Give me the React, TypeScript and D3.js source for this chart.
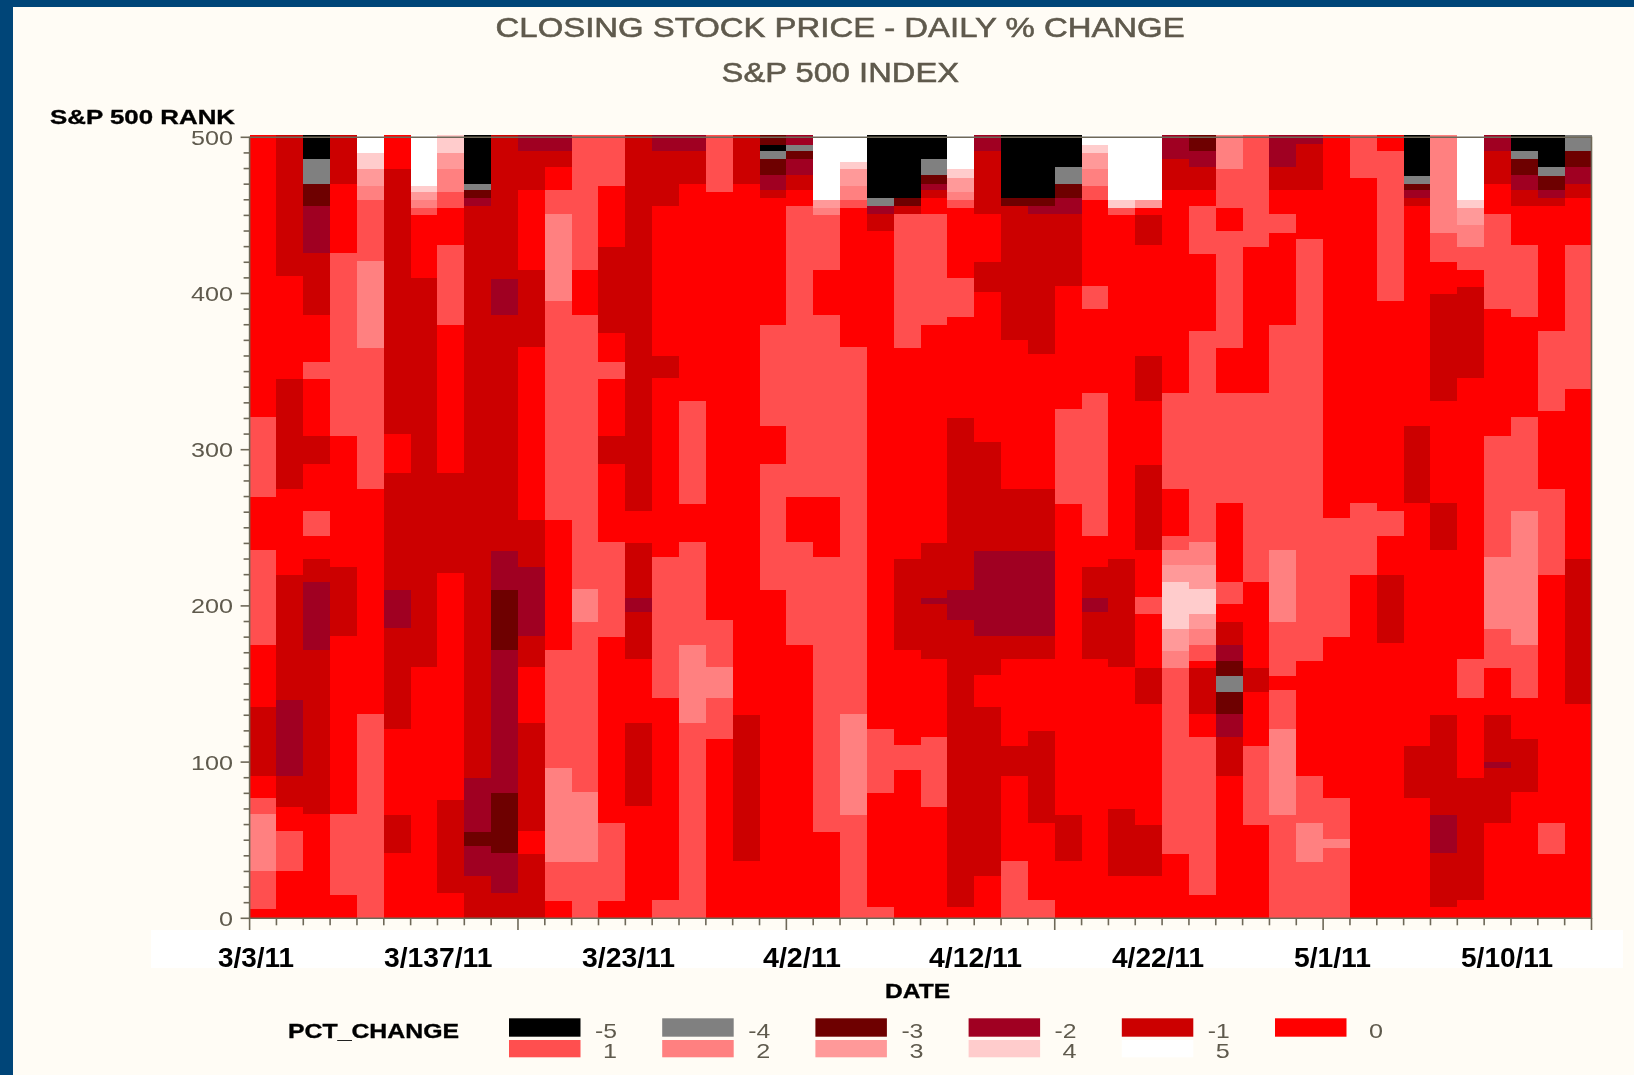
import React from "react";
import * as d3 from "d3";

// Each run: [rank at the top of the run, PCT_CHANGE class]; a run ends where the next begins.
const dayRuns: number[][][] = [
  [[500,0],[321,1],[270,0],[236,1],[175,0],[135,-1],[91,0],[77,1],[67,2],[30,1],[6,0]],
  [[500,-1],[411,0],[345,-1],[275,0],[220,-1],[140,-2],[91,-1],[71,0],[56,1],[30,0]],
  [[500,-5],[486,-4],[470,-3],[456,-2],[426,-1],[386,0],[356,1],[345,0],[309,-1],[291,0],[261,1],[245,0],[230,-1],[215,-2],[172,-1],[67,0]],
  [[500,-1],[470,0],[426,1],[309,0],[225,-1],[181,0],[67,1],[15,0]],
  [[500,5],[490,4],[480,3],[469,2],[460,1],[421,2],[365,1],[275,0],[131,1]],
  [[500,0],[480,-1],[310,0],[285,-1],[210,-2],[186,-1],[121,0],[66,-1],[42,0]],
  [[500,5],[469,4],[465,3],[460,2],[455,1],[450,0],[410,-1],[161,0]],
  [[500,4],[490,3],[480,2],[465,1],[455,0],[431,1],[380,0],[285,-1],[221,0],[76,-1],[16,0]],
  [[500,-5],[470,-4],[466,-3],[461,-2],[456,-1],[90,-2],[55,-3],[46,-2],[27,-1]],
  [[500,-1],[409,-2],[386,-1],[235,-2],[210,-3],[172,-2],[80,-3],[42,-2],[16,-1]],
  [[500,-2],[491,-1],[466,0],[415,-1],[366,0],[255,-1],[225,-2],[181,-1],[161,0],[125,-1],[56,0],[41,-1]],
  [[500,-2],[491,-1],[481,0],[466,1],[451,2],[395,1],[255,0],[172,1],[96,2],[36,1],[11,0]],
  [[500,1],[415,0],[386,1],[211,2],[190,1],[81,2],[36,1]],
  [[500,1],[469,0],[430,-1],[375,0],[356,1],[345,0],[309,-1],[291,0],[241,1],[180,0],[61,1],[11,0]],
  [[500,-1],[261,0],[240,-1],[205,-2],[196,-1],[166,0],[125,-1],[72,0]],
  [[500,-2],[491,-1],[456,0],[360,-1],[346,0],[231,1],[141,0],[12,1]],
  [[500,-2],[491,-1],[470,0],[331,1],[265,0],[241,1],[175,2],[125,1]],
  [[500,1],[465,0],[191,1],[161,2],[141,1],[115,0]],
  [[500,-1],[470,0],[130,-1],[37,0]],
  [[500,-3],[495,-5],[491,-4],[486,-3],[476,-2],[466,-1],[461,0],[380,1],[315,0],[291,1],[210,0]],
  [[500,-2],[495,-4],[491,-3],[486,-2],[476,-1],[466,0],[456,1],[270,0],[241,1],[175,0]],
  [[500,5],[460,3],[455,2],[450,1],[415,0],[386,1],[270,0],[231,1],[55,0]],
  [[500,5],[484,4],[480,3],[469,2],[460,1],[455,0],[366,1],[131,2],[66,1]],
  [[500,-5],[461,-4],[456,-2],[451,-1],[440,0],[121,1],[80,0],[7,1]],
  [[500,-5],[461,-3],[456,-1],[451,1],[365,0],[230,-1],[172,0],[111,1],[95,0]],
  [[500,-5],[486,-4],[476,-3],[470,-2],[466,-1],[461,0],[451,1],[380,0],[240,-1],[205,-2],[201,-1],[166,0],[116,1],[71,0]],
  [[500,5],[480,4],[474,3],[465,2],[460,1],[455,0],[410,1],[385,0],[320,-1],[210,-2],[191,-1],[7,0]],
  [[500,-2],[491,-1],[451,0],[420,-1],[401,0],[305,-1],[235,-2],[181,-1],[156,0],[135,-1],[27,0]],
  [[500,-5],[461,-3],[456,-1],[370,0],[275,-1],[235,-2],[181,-1],[166,0],[110,-1],[91,0],[37,1]],
  [[500,-5],[461,-3],[456,-2],[451,-1],[361,0],[275,-1],[235,-2],[181,-1],[166,0],[120,-1],[61,0],[12,1]],
  [[500,-5],[481,-4],[470,-3],[461,-2],[451,-1],[405,0],[326,1],[265,0],[66,-1],[37,0]],
  [[500,5],[495,4],[490,3],[480,2],[469,1],[460,0],[405,1],[390,0],[336,1],[245,0],[225,-1],[205,-2],[196,-1],[166,0]],
  [[500,5],[460,4],[455,1],[450,0],[230,-1],[161,0],[70,-1],[27,0]],
  [[500,5],[460,3],[455,0],[450,-1],[431,0],[360,-1],[331,0],[290,-1],[236,0],[206,1],[195,0],[160,-1],[137,0],[60,-1],[27,0]],
  [[500,-2],[486,-1],[466,0],[336,1],[275,0],[245,1],[236,2],[226,3],[215,4],[185,3],[171,2],[160,1],[41,0]],
  [[500,-3],[491,-2],[481,-1],[466,0],[456,1],[425,0],[376,1],[241,2],[226,3],[211,4],[195,3],[185,2],[175,1],[165,0],[160,-1],[131,0],[116,1],[15,0]],
  [[500,2],[480,1],[455,0],[440,1],[365,0],[336,1],[266,0],[215,1],[201,0],[190,-1],[175,-2],[165,-3],[155,-4],[145,-3],[131,-2],[116,-1],[91,0]],
  [[500,1],[430,0],[336,1],[215,0],[160,-1],[145,0],[110,1],[60,0]],
  [[500,-2],[481,-1],[466,0],[451,1],[439,0],[380,1],[236,2],[190,1],[155,0],[146,1],[121,2],[66,1]],
  [[500,-2],[496,-1],[466,0],[435,1],[165,0],[91,1],[61,2],[36,1]],
  [[500,0],[256,1],[180,0],[77,1],[51,2],[45,1]],
  [[500,1],[474,0],[266,1],[220,0]],
  [[500,0],[491,1],[395,0],[261,1],[245,0],[220,-1],[176,0]],
  [[500,-5],[475,-4],[470,-3],[466,-2],[461,-1],[456,0],[315,-1],[266,0],[110,-1],[77,0]],
  [[500,2],[439,1],[420,0],[400,-1],[331,0],[266,-1],[236,0],[130,-1],[66,-2],[42,-1],[7,0]],
  [[500,5],[460,4],[455,3],[444,2],[430,1],[415,0],[404,-1],[346,0],[166,1],[141,0],[90,-1],[12,0]],
  [[500,-2],[491,-1],[470,0],[451,1],[390,0],[309,1],[231,2],[185,1],[160,0],[130,-1],[100,-2],[96,-1],[61,0]],
  [[500,-5],[491,-4],[486,-3],[476,-2],[466,-1],[456,0],[431,1],[385,0],[321,1],[261,2],[175,1],[141,0],[115,-1],[81,0]],
  [[500,-5],[481,-4],[475,-3],[466,-2],[461,-1],[456,0],[376,1],[325,0],[275,1],[220,0],[61,1],[41,0]],
  [[500,-4],[491,-3],[481,-2],[470,-1],[461,0],[431,1],[339,0],[230,-1],[137,0]],
];

const classes = [-5, -4, -3, -2, -1, 0, 1, 2, 3, 4, 5];
const classColors = ["#000000", "#808080", "#6E0000", "#A00020", "#CC0000", "#FF0000", "#FF5050", "#FF8080", "#FF9999", "#FFCCCC", "#FFFFFF"];
const legendTop = [-5, -4, -3, -2, -1, 0];
const legendBottom = [1, 2, 3, 4, 5];
const dateLabels = ["3/3/11", "3/137/11", "3/23/11", "4/2/11", "4/12/11", "4/22/11", "5/1/11", "5/10/11"];
const dateLabelSpans = [[218, 294], [384, 492.5], [582, 675], [763, 841], [929, 1022], [1112, 1204], [1294, 1371], [1461, 1553]];
const rankTicks = d3.range(0, 501, 10);
const dayTicks = d3.range(0, 51);

const BG = "#FFFCF5";
const NAVY = "#004578";
const AXIS = "#6E6858";
const GREY_TEXT = "#5F5A4D";
const FONT = "'Liberation Sans', Arial, sans-serif";

export default function App() {
  const x = d3.scaleLinear().domain([0, 50]).range([249.6, 1591.5]);
  const y = d3.scaleLinear().domain([0, 500]).range([918.3, 137.3]);
  const color = d3.scaleOrdinal<number, string>().domain(classes).range(classColors);
  const legendX = d3.scaleLinear().domain([0, 5]).range([509, 1275]);
  const topEdge = 501.5;

  return (
    <svg width={1634} height={1075} style={{ position: "absolute", left: 0, top: 0, display: "block" }} fontFamily={FONT}>
      <defs>
        <filter id="soft" x="-5%" y="-5%" width="110%" height="110%">
          <feGaussianBlur stdDeviation="0.55" />
        </filter>
      </defs>
      <rect width={1634} height={1075} fill={BG} />
      <rect width={1634} height={7} fill={NAVY} />
      <rect width={13} height={1075} fill={NAVY} />

      <g filter="url(#soft)">
        {dayRuns.map((runs, day) =>
          runs.map(([top, value], i) => {
            const bottom = i + 1 < runs.length ? runs[i + 1][0] : 0;
            const t = i === 0 ? topEdge : top;
            return (
              <rect
                key={`${day}-${i}`}
                x={x(day)}
                y={y(t)}
                width={x(day + 1) - x(day) + 0.5}
                height={y(bottom) - y(t) + 0.5}
                fill={color(value)}
                shapeRendering="crispEdges"
              />
            );
          })
        )}

        <path
          d={`M${x(0)},${y(500)}H${x(50)}V${y(0)}H${x(0)}Z`}
          fill="none"
          stroke={AXIS}
          strokeWidth={1.6}
        />
        {rankTicks.map((t) => (
          <line key={t} x1={x(0) - (t % 100 === 0 ? 9 : 6)} x2={x(0)} y1={y(t)} y2={y(t)} stroke={AXIS} strokeWidth={1.6} />
        ))}
        {dayTicks.map((t) => (
          <line key={t} x1={x(t)} x2={x(t)} y1={y(0)} y2={y(0) + (t % 10 === 0 ? 13 : 7)} stroke={AXIS} strokeWidth={1.6} />
        ))}
        {rankTicks.filter((t) => t % 100 === 0).map((t) => {
          const s = String(t);
          return (
            <text key={t} x={233} y={y(t) + 7.5} textAnchor="end" fontSize={21} fill={GREY_TEXT}
              textLength={s.length * 14} lengthAdjust="spacingAndGlyphs">{s}</text>
          );
        })}

        <rect x={151} y={930} width={1472} height={38} fill="#FFFFFF" />
        {dateLabels.map((d, i) => (
          <text key={d} x={dateLabelSpans[i][0]} y={966.5} fontSize={28} fontWeight={700} fill="#000"
            textLength={dateLabelSpans[i][1] - dateLabelSpans[i][0]} lengthAdjust="spacingAndGlyphs">{d}</text>
        ))}

        <text x={495.6} y={37.3} fontSize={27.5} fill={GREY_TEXT} stroke={GREY_TEXT} strokeWidth={0.55} textLength={689} lengthAdjust="spacingAndGlyphs">CLOSING STOCK PRICE - DAILY % CHANGE</text>
        <text x={721.6} y={82} fontSize={27.5} fill={GREY_TEXT} stroke={GREY_TEXT} strokeWidth={0.55} textLength={237.4} lengthAdjust="spacingAndGlyphs">S&amp;P 500 INDEX</text>
        <text x={50} y={124} fontSize={21} fontWeight={700} fill="#000" stroke="#000" strokeWidth={0.35} textLength={185} lengthAdjust="spacingAndGlyphs">S&amp;P 500 RANK</text>
        <text x={885} y={997.7} fontSize={21} fontWeight={700} fill="#000" stroke="#000" strokeWidth={0.35} textLength={65} lengthAdjust="spacingAndGlyphs">DATE</text>
        <text x={288} y={1038} fontSize={21} fontWeight={700} fill="#000" stroke="#000" strokeWidth={0.35} textLength={171} lengthAdjust="spacingAndGlyphs">PCT_CHANGE</text>

        {legendTop.map((v, i) => (
          <g key={v}>
            <rect x={legendX(i)} y={1018.3} width={71.5} height={18.4} fill={color(v)} />
            <text x={legendX(i) + 108} y={1037.5} textAnchor="end" fontSize={21} fill={GREY_TEXT}
              textLength={String(v).length === 1 ? 14 : 22} lengthAdjust="spacingAndGlyphs">{v}</text>
          </g>
        ))}
        {legendBottom.map((v, i) => (
          <g key={v}>
            <rect x={legendX(i)} y={1040} width={71.5} height={17.3} fill={color(v)} />
            <text x={legendX(i) + 108} y={1058} textAnchor="end" fontSize={21} fill={GREY_TEXT}
              textLength={14} lengthAdjust="spacingAndGlyphs">{v}</text>
          </g>
        ))}
      </g>
    </svg>
  );
}
